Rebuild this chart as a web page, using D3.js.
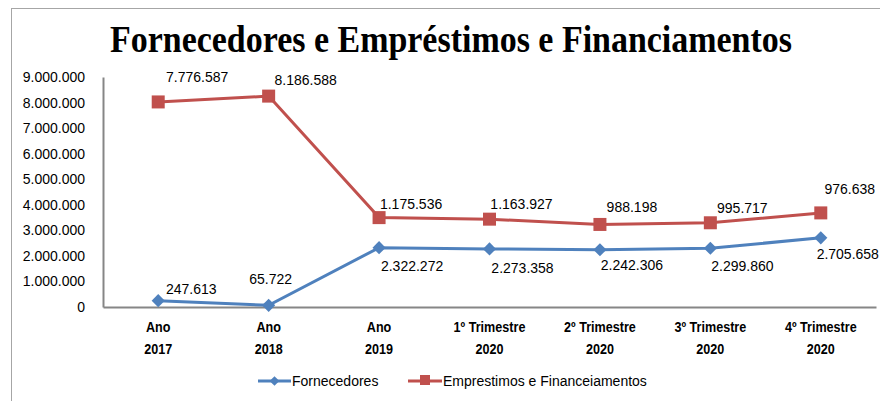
<!DOCTYPE html>
<html><head><meta charset="utf-8">
<script src="https://cdn.jsdelivr.net/npm/d3@7"></script>
<style>body{margin:0;background:#fff}svg{display:block}</style>
</head><body>
<svg id="c" width="880" height="401"></svg>
<script>
const categories = [["Ano","2017"],["Ano","2018"],["Ano","2019"],["1º Trimestre","2020"],["2º Trimestre","2020"],["3º Trimestre","2020"],["4º Trimestre","2020"]];
const fornecedores = [247613, 65722, 2322272, 2273358, 2242306, 2299860, 2705658];
const emprestimos = [7776587, 8186588, 1175536, 1163927, 988198, 995717, 976638];
const yTicks = [0,1000000,2000000,3000000,4000000,5000000,6000000,7000000,8000000,9000000];
const seriesNames = ["Fornecedores","Emprestimos e Financeiamentos"];
const titleText = "Fornecedores e Empréstimos e Financiamentos";

const blue = "#4F81BD", red = "#C0504D";
const svg = d3.select("#c");
const fmt = v => d3.format(",")(v).replace(/,/g,".");

// outer border
svg.append("rect").attr("x",11.5).attr("y",8.5).attr("width",900).attr("height",420)
  .attr("fill","none").attr("stroke","#a6a6a6").attr("stroke-width",1);

svg.append("text").attr("x",451).attr("y",52).attr("text-anchor","middle")
  .attr("font-family","Liberation Serif, serif").attr("font-weight","bold").attr("font-size",38)
  .attr("textLength",682).attr("lengthAdjust","spacingAndGlyphs").text(titleText);

const x = d3.scaleBand().domain(d3.range(categories.length)).range([103,876]);
const y = d3.scaleLinear().domain([0,9000000]).range([307,77]);
const cx = i => x(i) + x.bandwidth()/2;

// y axis
const ya = svg.append("g").attr("transform","translate(103,0)")
  .call(d3.axisLeft(y).tickValues(yTicks).tickSize(0).tickPadding(18).tickFormat(fmt));
ya.select(".domain").attr("stroke","#868686").attr("stroke-width",2);
ya.selectAll("text").attr("font-family","Liberation Sans, Arial, sans-serif").attr("font-size",14).attr("fill","#000");

// x axis
const xa = svg.append("g").attr("transform","translate(0,307)")
  .call(d3.axisBottom(x).tickSize(0).tickFormat(""));
xa.select(".domain").attr("stroke","#868686").attr("stroke-width",2);
xa.selectAll(".tick").each(function(d){
  const t = d3.select(this).append("text").attr("fill","#000").attr("text-anchor","middle")
    .attr("transform","scale(0.84,1)")
    .attr("font-family","Liberation Sans, Arial, sans-serif")
    .attr("font-weight","bold").attr("font-size",15);
  t.append("tspan").attr("x",0).attr("y",25).text(categories[d][0]);
  t.append("tspan").attr("x",0).attr("y",47).text(categories[d][1]);
});

const stacked = emprestimos.map((v,i)=>v+fornecedores[i]);
const line = d3.line().x((d,i)=>cx(i)).y(d=>y(d));

svg.append("path").datum(stacked).attr("d",line).attr("fill","none").attr("stroke",red).attr("stroke-width",3);
svg.append("path").datum(fornecedores).attr("d",line).attr("fill","none").attr("stroke",blue).attr("stroke-width",3);

svg.selectAll(".sq").data(stacked).enter().append("rect")
  .attr("x",(d,i)=>cx(i)-6.5).attr("y",d=>y(d)-6.5).attr("width",13).attr("height",13).attr("fill",red);
const dia = d3.symbol().type(d3.symbolDiamond2).size(110);
svg.selectAll(".dm").data(fornecedores).enter().append("path")
  .attr("transform",(d,i)=>`translate(${cx(i)},${y(d)})`).attr("d",dia).attr("fill",blue);

// data labels
const redOff = [[39,-25],[37,-16],[32,-14],[32,-15],[32,-17],[32,-15],[29,-24]];
const blueOff = [[33,-12],[2,-26],[33,18],[33,19],[32,15],[32,18],[27,16]];
const lblFont = "Liberation Sans, Arial, sans-serif";
svg.selectAll(".rl").data(emprestimos).enter().append("text")
  .attr("x",(d,i)=>cx(i)+redOff[i][0]).attr("y",(d,i)=>y(stacked[i])+redOff[i][1]+5)
  .attr("text-anchor","middle").attr("font-family",lblFont).attr("font-size",14).text(fmt);
svg.selectAll(".bl").data(fornecedores).enter().append("text")
  .attr("x",(d,i)=>cx(i)+blueOff[i][0]).attr("y",(d,i)=>y(d)+blueOff[i][1]+5)
  .attr("text-anchor","middle").attr("font-family",lblFont).attr("font-size",14).text(fmt);

// legend
const lg = svg.append("g").attr("font-family","Liberation Sans, Arial, sans-serif").attr("font-size",14);
lg.append("line").attr("x1",258).attr("x2",291).attr("y1",381).attr("y2",381).attr("stroke",blue).attr("stroke-width",3);
lg.append("path").attr("transform","translate(274.5,381)").attr("d",d3.symbol().type(d3.symbolDiamond2).size(60)).attr("fill",blue);
lg.append("text").attr("x",292).attr("y",386).text(seriesNames[0]);
lg.append("line").attr("x1",408).attr("x2",442).attr("y1",381).attr("y2",381).attr("stroke",red).attr("stroke-width",3);
lg.append("rect").attr("x",420).attr("y",375).attr("width",10).attr("height",10).attr("fill",red);
lg.append("text").attr("x",443).attr("y",386).text(seriesNames[1]);
</script>
</body></html>
